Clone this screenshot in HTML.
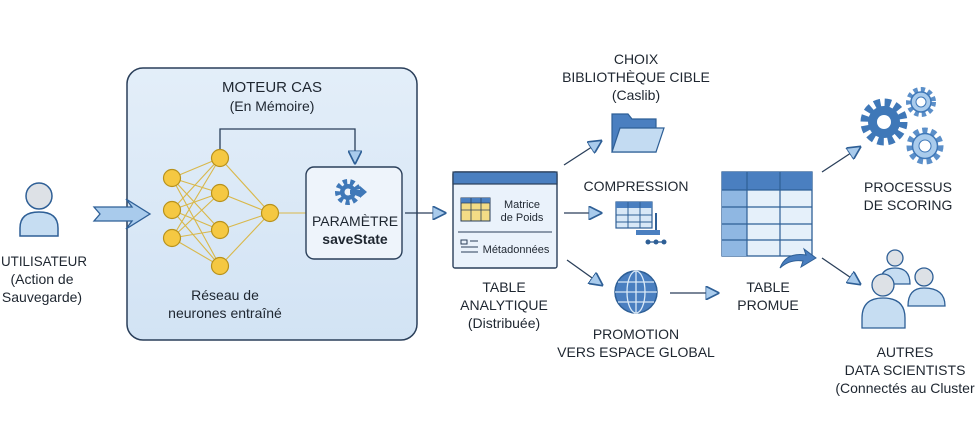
<!DOCTYPE html>
<html><head><meta charset="utf-8"><style>
html,body{margin:0;padding:0;background:#fff;}
svg{display:block;font-family:"Liberation Sans",sans-serif;}
text{fill:#1e2630;text-anchor:middle;font-size:14px;}
.s{font-size:11px;}
.t{font-size:15px;}
</style></head><body>
<svg width="978" height="440" viewBox="0 0 978 440" xmlns="http://www.w3.org/2000/svg">
<defs>
<marker id="ah" viewBox="0 0 10 10" refX="9" refY="5" markerWidth="14" markerHeight="14" markerUnits="userSpaceOnUse" orient="auto">
<path d="M0,0 L10,5 L0,10 Z" fill="#a9cbec" stroke="#2e5f96" stroke-width="1.2"/></marker>
<linearGradient id="g1" x1="0" y1="0" x2="0" y2="1"><stop offset="0" stop-color="#e3eef9"/><stop offset="1" stop-color="#d2e3f4"/></linearGradient>
</defs>
<!-- user -->
<circle cx="39" cy="196" r="13" fill="#dde1e6" stroke="#2e5f96" stroke-width="1.5"/>
<path d="M20,236 L20,228 Q20,212 39,212 Q58,212 58,228 L58,236 Z" fill="#c6ddf2" stroke="#2e5f96" stroke-width="1.5"/>
<text x="44" y="266" textLength="86" lengthAdjust="spacingAndGlyphs">UTILISATEUR</text>
<text x="42" y="284">(Action de</text>
<text x="42" y="302">Sauvegarde)</text>
<!-- CAS box -->
<rect x="127" y="68" width="290" height="272" rx="16" fill="url(#g1)" stroke="#2a3f5a" stroke-width="1.5"/>
<path d="M94,207 L132,207 L126,199 L150,214 L126,229 L132,221 L94,221 L100,214 Z" fill="#a9cbec" stroke="#2e5f96" stroke-width="1.3"/>
<text class="t" x="272" y="92">MOTEUR CAS</text>
<text x="272" y="111">(En Mémoire)</text>
<!-- network -->
<g stroke="#d9b84a" stroke-width="1.1">
<line x1="172" y1="178" x2="220" y2="158"/><line x1="172" y1="178" x2="220" y2="193"/><line x1="172" y1="178" x2="220" y2="230"/><line x1="172" y1="178" x2="220" y2="266"/>
<line x1="172" y1="210" x2="220" y2="158"/><line x1="172" y1="210" x2="220" y2="193"/><line x1="172" y1="210" x2="220" y2="230"/><line x1="172" y1="210" x2="220" y2="266"/>
<line x1="172" y1="238" x2="220" y2="158"/><line x1="172" y1="238" x2="220" y2="193"/><line x1="172" y1="238" x2="220" y2="230"/><line x1="172" y1="238" x2="220" y2="266"/>
<line x1="220" y1="158" x2="270" y2="213"/><line x1="220" y1="193" x2="270" y2="213"/><line x1="220" y1="230" x2="270" y2="213"/><line x1="220" y1="266" x2="270" y2="213"/>
<line x1="270" y1="213" x2="306" y2="213"/>
</g>
<g fill="#f5c842" stroke="#b8921c" stroke-width="1.2">
<circle cx="172" cy="178" r="8.5"/><circle cx="172" cy="210" r="8.5"/><circle cx="172" cy="238" r="8.5"/>
<circle cx="220" cy="158" r="8.5"/><circle cx="220" cy="193" r="8.5"/><circle cx="220" cy="230" r="8.5"/><circle cx="220" cy="266" r="8.5"/>
<circle cx="270" cy="213" r="8.5"/>
</g>
<polyline points="220,149 220,129 355,129 355,163" fill="none" stroke="#2a3f5a" stroke-width="1.3" marker-end="url(#ah)"/>
<text x="225" y="300">Réseau de</text>
<text x="225" y="318">neurones entraîné</text>
<!-- param box -->
<rect x="306" y="167" width="96" height="92" rx="8" fill="#eef4fb" stroke="#2a3f5a" stroke-width="1.4"/>
<circle cx="348" cy="192" r="10" fill="none" stroke="#3f78b8" stroke-width="6" stroke-dasharray="4 3"/>
<circle cx="348" cy="192" r="8" fill="#3f78b8"/><circle cx="348" cy="192" r="3.5" fill="#eef4fb"/>
<path d="M350,190 L360,190 L360,186 L367,192 L360,198 L360,194 L350,194 Z" fill="#3f78b8"/>
<text x="355" y="226">PARAMÈTRE</text>
<text x="355" y="244" font-weight="bold">saveState</text>
<line x1="405" y1="213" x2="445" y2="213" stroke="#2a3f5a" stroke-width="1.3" marker-end="url(#ah)"/>
<!-- table analytique -->
<rect x="453" y="172" width="104" height="96" rx="2" fill="#eaf2fb" stroke="#2a3f5a" stroke-width="1.4"/>
<rect x="453" y="172" width="104" height="12" fill="#4a7fc0" stroke="#2a3f5a" stroke-width="1.2"/>
<rect x="461" y="198" width="29" height="23" fill="#f3dc86" stroke="#2a3f5a" stroke-width="1"/>
<rect x="461" y="198" width="29" height="5" fill="#4a7fc0"/>
<g stroke="#2a3f5a" stroke-width="0.8"><line x1="471" y1="198" x2="471" y2="221"/><line x1="481" y1="198" x2="481" y2="221"/><line x1="461" y1="210" x2="490" y2="210"/><line x1="461" y1="203" x2="490" y2="203"/></g>
<text class="s" x="522" y="208">Matrice</text>
<text class="s" x="522" y="221">de Poids</text>
<line x1="458" y1="232" x2="552" y2="232" stroke="#2a3f5a" stroke-width="1"/>
<rect x="461" y="240" width="6" height="4" fill="none" stroke="#2a3f5a"/>
<g stroke="#2a3f5a" stroke-width="1"><line x1="470" y1="241" x2="478" y2="241"/><line x1="461" y1="247" x2="478" y2="247"/><line x1="461" y1="252" x2="478" y2="252"/></g>
<text class="s" x="516" y="253">Métadonnées</text>
<text x="504" y="292">TABLE</text>
<text x="504" y="310">ANALYTIQUE</text>
<text x="504" y="328">(Distribuée)</text>
<!-- arrows from table -->
<line x1="564" y1="165" x2="601" y2="141" stroke="#2a3f5a" stroke-width="1.3" marker-end="url(#ah)"/>
<line x1="564" y1="213" x2="601" y2="213" stroke="#2a3f5a" stroke-width="1.3" marker-end="url(#ah)"/>
<line x1="567" y1="260" x2="602" y2="285" stroke="#2a3f5a" stroke-width="1.3" marker-end="url(#ah)"/>
<!-- choix -->
<text x="636" y="64">CHOIX</text>
<text x="636" y="82">BIBLIOTHÈQUE CIBLE</text>
<text x="636" y="100">(Caslib)</text>
<path d="M612,152 L612,114 L628,114 L632,119 L656,119 L656,152 Z" fill="#4a7fc0" stroke="#2e5f96" stroke-width="1.2"/>
<path d="M612,152 L620,128 L664,128 L656,152 Z" fill="#c3dbf2" stroke="#2e5f96" stroke-width="1.2"/>
<!-- compression -->
<text x="636" y="191">COMPRESSION</text>
<rect x="616" y="202" width="36" height="26" fill="#d8e8f7" stroke="#2e5f96" stroke-width="1.2"/>
<rect x="616" y="202" width="36" height="6" fill="#4a7fc0"/>
<g stroke="#2e5f96" stroke-width="1"><line x1="628" y1="202" x2="628" y2="228"/><line x1="640" y1="202" x2="640" y2="228"/><line x1="616" y1="215" x2="652" y2="215"/><line x1="616" y1="222" x2="652" y2="222"/></g>
<rect x="636" y="230" width="24" height="5" fill="#4a7fc0"/>
<line x1="656" y1="213" x2="656" y2="230" stroke="#2e5f96" stroke-width="2"/>
<line x1="648" y1="242" x2="664" y2="242" stroke="#2e5f96" stroke-width="1.3"/>
<circle cx="648" cy="242" r="2.5" fill="#2e5f96"/><circle cx="656" cy="242" r="2.5" fill="#2e5f96"/><circle cx="664" cy="242" r="2.5" fill="#2e5f96"/>
<!-- globe -->
<circle cx="636" cy="292" r="21" fill="#4a7fc0" stroke="#2e5f96" stroke-width="1.5"/>
<g fill="none" stroke="#d8e8f7" stroke-width="1.3"><ellipse cx="636" cy="292" rx="9" ry="21"/><line x1="636" y1="271" x2="636" y2="313"/><line x1="615" y1="292" x2="657" y2="292"/><line x1="618" y1="282" x2="654" y2="282"/><line x1="618" y1="302" x2="654" y2="302"/></g>
<text x="636" y="339">PROMOTION</text>
<text x="636" y="357">VERS ESPACE GLOBAL</text>
<line x1="670" y1="293" x2="718" y2="293" stroke="#2a3f5a" stroke-width="1.3" marker-end="url(#ah)"/>
<!-- promoted table -->
<rect x="722" y="172" width="90" height="84" fill="#e5f0fa" stroke="#2e5f96" stroke-width="1.3"/>
<rect x="722" y="172" width="90" height="18" fill="#4a7fc0"/>
<rect x="722" y="190" width="25" height="66" fill="#8fb7e2"/>
<g stroke="#2e5f96" stroke-width="1.2"><line x1="747" y1="172" x2="747" y2="256"/><line x1="780" y1="172" x2="780" y2="256"/>
<line x1="722" y1="190" x2="812" y2="190"/><line x1="722" y1="207" x2="812" y2="207"/><line x1="722" y1="224" x2="812" y2="224"/><line x1="722" y1="240" x2="812" y2="240"/></g>
<path d="M780,268 Q786,252 806,255 L804,249 L816,258 L801,267 L803,261 Q790,259 780,268 Z" fill="#4a7fc0" stroke="#2e5f96"/>
<text x="768" y="292">TABLE</text>
<text x="768" y="310">PROMUE</text>
<!-- arrows right -->
<line x1="822" y1="172" x2="860" y2="147" stroke="#2a3f5a" stroke-width="1.3" marker-end="url(#ah)"/>
<line x1="822" y1="258" x2="860" y2="284" stroke="#2a3f5a" stroke-width="1.3" marker-end="url(#ah)"/>
<!-- gears -->
<circle cx="884" cy="122" r="19" fill="none" stroke="#3f78b8" stroke-width="9" stroke-dasharray="6 4"/>
<circle cx="884" cy="122" r="16" fill="#3f78b8"/><circle cx="884" cy="122" r="7" fill="#fff"/>
<circle cx="921" cy="102" r="12" fill="none" stroke="#5b8fc9" stroke-width="6" stroke-dasharray="4 3"/>
<circle cx="921" cy="102" r="10" fill="#a9cbec" stroke="#3f78b8" stroke-width="1.5"/><circle cx="921" cy="102" r="5" fill="#fff" stroke="#3f78b8"/>
<circle cx="925" cy="146" r="15" fill="none" stroke="#5b8fc9" stroke-width="7" stroke-dasharray="5 3.5"/>
<circle cx="925" cy="146" r="12.5" fill="#a9cbec" stroke="#3f78b8" stroke-width="1.5"/><circle cx="925" cy="146" r="6" fill="#fff" stroke="#3f78b8"/>
<text x="908" y="192">PROCESSUS</text>
<text x="908" y="210">DE SCORING</text>
<!-- people -->
<g stroke="#2e5f96" stroke-width="1.3">
<circle cx="895" cy="258" r="8" fill="#dde1e6"/>
<path d="M880,284 Q880,268 895,268 Q910,268 910,284 Z" fill="#c6ddf2"/>
<circle cx="924" cy="277" r="9" fill="#dde1e6"/>
<path d="M908,306 Q908,288 924,288 Q945,288 945,306 Z" fill="#c6ddf2"/>
<circle cx="883" cy="285" r="11" fill="#dde1e6"/>
<path d="M862,328 L862,318 Q862,298 883,298 Q905,298 905,318 L905,328 Z" fill="#c6ddf2"/>
</g>
<text x="905" y="357">AUTRES</text>
<text x="905" y="375">DATA SCIENTISTS</text>
<text x="905" y="393">(Connectés au Cluster</text>
</svg>
</body></html>
